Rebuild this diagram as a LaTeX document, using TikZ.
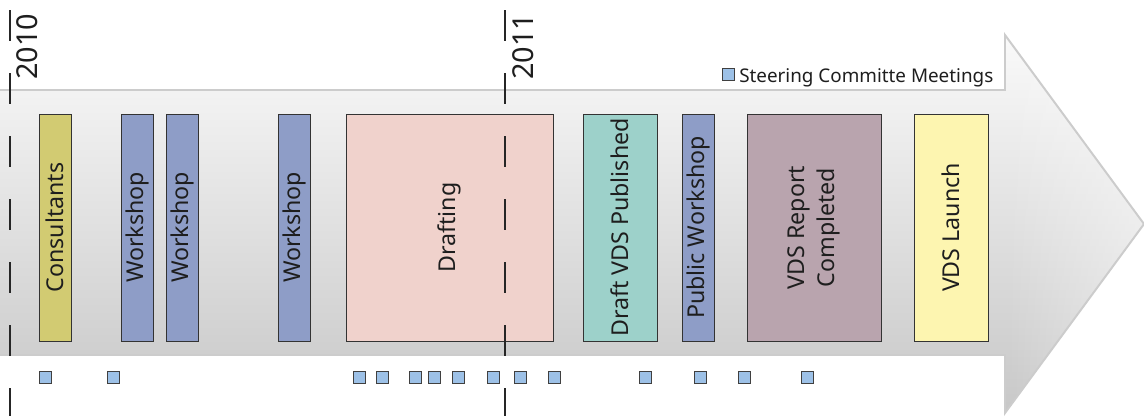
\documentclass[tikz,border=0pt]{standalone}
\usepackage{fontspec}
\setmainfont{Noto Sans}
\usetikzlibrary{fadings}
\definecolor{consult}{HTML}{D2CB72}
\definecolor{workshop}{HTML}{8E9DC7}
\definecolor{drafting}{HTML}{F0D2CC}
\definecolor{published}{HTML}{9DD1CA}
\definecolor{report}{HTML}{B9A4AE}
\definecolor{launch}{HTML}{FDF5B0}
\definecolor{meetblue}{HTML}{9DC1E7}
\definecolor{inktext}{HTML}{1E1E1E}
\tikzset{
  phase/.style={draw=black!80, line width=0.6pt, rotate=90, inner sep=0pt, align=center,
    minimum width=227*0.025cm, font=\fontsize{16.5}{21}\selectfont, text=inktext},
  meeting/.style={draw=black!75, line width=0.7pt, fill=meetblue, minimum size=0.3cm, inner sep=0pt},
  yearline/.style={line width=2.1pt, black!85, dash pattern=on 0.775cm off 0.8cm},
  year/.style={rotate=90, anchor=west, inner sep=0pt, font=\fontsize{20.5}{24}\selectfont, text=inktext}
}
\begin{document}
\begin{tikzpicture}[x=0.025cm,y=-0.025cm]
\useasboundingbox (0,0) rectangle (1144,416);
\fill[white] (0,0) rectangle (1144,416);
\fill[top color=black!2, bottom color=black!22] (0,90) -- (1005,90) -- (1005,35) -- (1144,224) -- (1005,413) -- (1005,355) -- (0,355) -- cycle;
\fill[white, opacity=0.45, path fading=west] (1005,35) -- (1144,224) -- (1005,413) -- cycle;
\draw[black!20, line width=1.4pt] (0,90) -- (1005,90) -- (1005,35) -- (1144,224) -- (1005,413) -- (1005,355) -- (0,355);
\node[phase, fill=consult, minimum height=32*0.025cm] (cons) at (55,227.5) {Consultants};
\foreach \x [count=\i] in {137,182,294.5} {
\node[phase, fill=workshop, minimum height=32*0.025cm] (ws\i) at (\x,227.5) {Workshop};
}
\node[phase, fill=drafting, minimum height=207*0.025cm] (draft) at (449.5,227.5) {Drafting};
\node[phase, fill=published, minimum height=74*0.025cm] (pub) at (620,227.5) {Draft VDS Published};
\node[phase, fill=workshop, minimum height=32*0.025cm] (pubws) at (698,227.5) {Public Workshop};
\node[phase, fill=report, minimum height=134*0.025cm] (rep) at (814,227.5) {VDS Report\\Completed};
\node[phase, fill=launch, minimum height=74*0.025cm] (launch) at (951,227.5) {VDS Launch};
\draw[yearline] (10,10) -- (10,416);
\draw[yearline] (505,10) -- (505,416);
\node[year] (y2010) at (27,80) {2010};
\node[year] (y2011) at (523,80) {2011};
\foreach \x [count=\i] in {39,107,353,376,409,428,452,487,514,548,639,694,738,801} {
\node[meeting] (m\i) at (\x+6,377) {};
}
\node[meeting] (legsq) at (728,74) {};
\node[anchor=base west, inner sep=0pt, font=\fontsize{13.4}{16}\selectfont, text=inktext] (legtxt) at (739,82) {Steering Committe Meetings};
\end{tikzpicture}
\end{document}
